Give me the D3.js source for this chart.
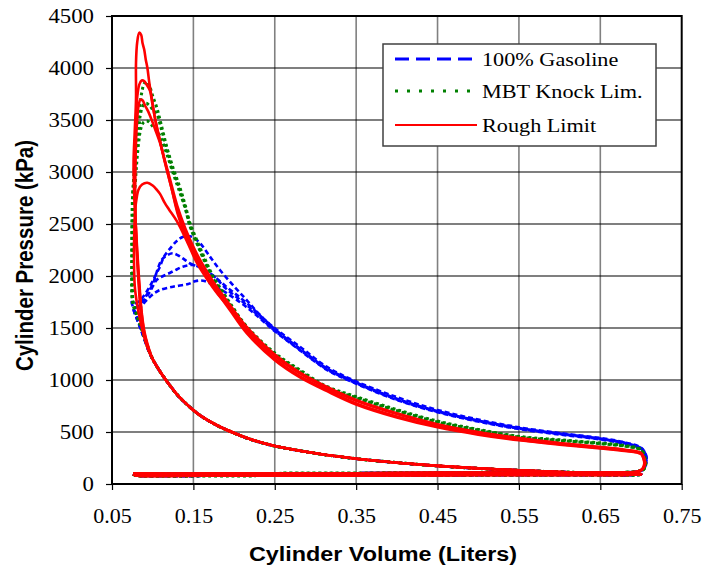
<!DOCTYPE html>
<html>
<head>
<meta charset="utf-8">
<script src="https://cdn.jsdelivr.net/npm/d3@7"></script>
<style>
  body { margin: 0; background: #fff; }
  svg { display: block; }
</style>
</head>
<body>
<div id="chart"></div>
<script>
// cylinder volume (liters) vs cylinder pressure (kPa)
var xTicks = [0.05, 0.15, 0.25, 0.35, 0.45, 0.55, 0.65, 0.75];
var yTicks = [0, 500, 1000, 1500, 2000, 2500, 3000, 3500, 4000, 4500];
var seriesNames = ["100% Gasoline", "MBT Knock Lim.", "Rough Limit"];

// gas exchange + compression, shared by every cycle
var intakeStroke = [[0.076,95],[0.08,82],[0.10,78],[0.20,80],[0.30,82],[0.40,84],[0.50,86],[0.60,88],[0.70,92]];
var compressionStroke = [[0.70,94],[0.65,104],[0.60,116],[0.55,131],[0.50,150],[0.45,174],[0.40,205],[0.35,243],[0.30,295],[0.25,365],[0.22,430],[0.20,490],[0.18,560],[0.16,650],[0.15,710],[0.14,780],[0.13,860],[0.12,960],[0.11,1070],[0.10,1200]];
var exhaustStroke = [[0.695,118],[0.68,112],[0.60,108],[0.50,108],[0.40,105],[0.30,103],[0.20,101],[0.12,99],[0.085,100],[0.076,100]];

// combustion + expansion, one list per cycle
var gasolineCycles = [
  [[0.095,1290],[0.09,1400],[0.085,1510],[0.08,1620],[0.076,1700],[0.074,1750],[0.076,1745],[0.08,1740],[0.085,1770],[0.09,1820],[0.095,1880],[0.10,1950],[0.105,2030],[0.109,2090],[0.1135,2180],[0.1233,2282],[0.13,2340],[0.1376,2378],[0.148,2378],[0.158,2317],[0.17,2190],[0.1826,2058],[0.20,1900],[0.2155,1769],[0.23,1640],[0.2477,1513],[0.281,1320],[0.3136,1128],[0.346,1000],[0.40,835],[0.45,712],[0.50,620],[0.55,545],[0.60,490],[0.65,442],[0.68,400],[0.70,350],[0.705,300],[0.707,250],[0.706,190],[0.703,140],[0.699,128]],
  [[0.095,1285],[0.09,1395],[0.085,1500],[0.08,1610],[0.076,1690],[0.078,1690],[0.083,1720],[0.09,1790],[0.10,1920],[0.105,2040],[0.111,2154],[0.118,2200],[0.125,2218],[0.135,2180],[0.146,2120],[0.158,2085],[0.17,2030],[0.19,1900],[0.2155,1740],[0.25,1490],[0.281,1300],[0.3136,1115],[0.346,990],[0.40,820],[0.45,700],[0.50,610],[0.55,538],[0.60,485],[0.65,436],[0.68,396],[0.70,345],[0.705,295],[0.7065,245],[0.7055,188],[0.7025,140],[0.699,127]],
  [[0.095,1280],[0.09,1390],[0.085,1500],[0.08,1600],[0.077,1680],[0.079,1680],[0.085,1720],[0.0967,1850],[0.105,1962],[0.113,2000],[0.121,2029],[0.13,2065],[0.137,2090],[0.149,2106],[0.16,2075],[0.175,2000],[0.19,1880],[0.2155,1720],[0.25,1475],[0.281,1290],[0.3136,1105],[0.346,982],[0.40,812],[0.45,694],[0.50,605],[0.55,532],[0.60,480],[0.65,432],[0.68,392],[0.70,342],[0.705,292],[0.7065,242],[0.7055,186],[0.7025,140],[0.699,127]],
  [[0.095,1280],[0.09,1385],[0.085,1495],[0.08,1600],[0.077,1670],[0.079,1670],[0.085,1700],[0.0905,1750],[0.0967,1801],[0.103,1840],[0.109,1865],[0.125,1897],[0.1437,1923],[0.152,1950],[0.162,1955],[0.175,1910],[0.19,1840],[0.2155,1700],[0.25,1470],[0.281,1285],[0.3136,1100],[0.346,978],[0.40,808],[0.45,690],[0.50,600],[0.55,528],[0.60,476],[0.65,428],[0.68,388],[0.70,340],[0.705,290],[0.7065,240],[0.7055,185],[0.7025,140],[0.699,127]]
];

var knockCycles = [
  [[0.095,1290],[0.09,1400],[0.085,1520],[0.08,1630],[0.076,1720],[0.0745,1800],[0.0745,2200],[0.075,2600],[0.0762,2890],[0.078,3100],[0.0805,3380],[0.0835,3600],[0.0865,3760],[0.0895,3850],[0.0926,3870],[0.096,3830],[0.10,3730],[0.105,3620],[0.11,3470],[0.117,3250],[0.125,3040],[0.1335,2850],[0.14,2680],[0.1458,2510],[0.155,2330],[0.165,2150],[0.174,2000],[0.185,1860],[0.195,1740],[0.2155,1515],[0.25,1260],[0.281,1096],[0.3136,940],[0.35,840],[0.40,715],[0.45,605],[0.50,525],[0.55,458],[0.60,425],[0.65,394],[0.68,370],[0.70,332],[0.7045,262],[0.706,192],[0.7035,142],[0.699,128]],
  [[0.095,1300],[0.09,1420],[0.085,1540],[0.08,1650],[0.0755,1760],[0.0745,2000],[0.0745,2450],[0.0755,2800],[0.078,2990],[0.0803,3243],[0.0834,3435],[0.0844,3532],[0.0885,3644],[0.092,3660],[0.096,3640],[0.10,3600],[0.105,3560],[0.11,3430],[0.117,3230],[0.125,3020],[0.1335,2830],[0.14,2660],[0.1458,2490],[0.155,2310],[0.165,2130],[0.174,1985],[0.185,1850],[0.195,1730],[0.2155,1505],[0.25,1250],[0.281,1088],[0.3136,932],[0.35,832],[0.40,708],[0.45,598],[0.50,520],[0.55,452],[0.60,420],[0.65,390],[0.68,366],[0.70,328],[0.704,258],[0.7055,188],[0.703,140],[0.699,127]],
  [[0.095,1290],[0.09,1410],[0.085,1530],[0.08,1640],[0.076,1750],[0.0755,2100],[0.0765,2500],[0.078,2800],[0.0805,3100],[0.083,3300],[0.0855,3420],[0.089,3480],[0.093,3490],[0.097,3470],[0.10,3440],[0.105,3400],[0.11,3330],[0.117,3180],[0.125,2990],[0.1335,2800],[0.14,2650],[0.1458,2480],[0.155,2300],[0.165,2120],[0.174,1975],[0.185,1842],[0.195,1722],[0.2155,1498],[0.25,1245],[0.281,1082],[0.3136,928],[0.35,828],[0.40,704],[0.45,595],[0.50,517],[0.55,450],[0.60,418],[0.65,388],[0.68,364],[0.70,326],[0.704,256],[0.7055,186],[0.703,140],[0.699,127]]
];

var roughCycles = [
  [[0.095,1310],[0.09,1460],[0.0865,1650],[0.083,2000],[0.0795,2450],[0.077,2850],[0.0765,3100],[0.078,3400],[0.0795,3700],[0.0795,4050],[0.081,4250],[0.0835,4340],[0.0858,4320],[0.0875,4240],[0.0895,4180],[0.0915,4080],[0.0935,4000],[0.096,3850],[0.0995,3680],[0.103,3510],[0.108,3330],[0.1126,3170],[0.117,3030],[0.123,2850],[0.131,2590],[0.14,2390],[0.15,2220],[0.16,2075],[0.174,1900],[0.195,1670],[0.2155,1450],[0.25,1190],[0.281,1025],[0.3136,895],[0.35,765],[0.40,640],[0.45,545],[0.50,475],[0.55,420],[0.60,378],[0.65,342],[0.68,318],[0.70,288],[0.703,245],[0.704,195],[0.702,150],[0.698,125]],
  [[0.095,1300],[0.09,1440],[0.0865,1630],[0.083,1950],[0.08,2350],[0.078,2750],[0.0785,3150],[0.0795,3500],[0.081,3720],[0.0835,3840],[0.0865,3880],[0.0895,3875],[0.0925,3840],[0.0967,3780],[0.0995,3660],[0.1035,3490],[0.109,3300],[0.115,3100],[0.122,2880],[0.131,2610],[0.14,2410],[0.15,2240],[0.16,2090],[0.174,1915],[0.195,1685],[0.2155,1465],[0.25,1205],[0.281,1035],[0.3136,905],[0.35,775],[0.40,650],[0.45,552],[0.50,482],[0.55,426],[0.60,383],[0.65,346],[0.68,322],[0.70,292],[0.703,248],[0.7045,198],[0.7025,152],[0.698,127]],
  [[0.095,1290],[0.09,1420],[0.086,1600],[0.0825,1950],[0.0795,2400],[0.0785,2800],[0.079,3150],[0.0805,3450],[0.0825,3630],[0.085,3695],[0.0875,3690],[0.0905,3640],[0.094,3590],[0.0988,3500],[0.104,3390],[0.109,3280],[0.115,3110],[0.121,2940],[0.13,2680],[0.14,2460],[0.15,2280],[0.16,2130],[0.174,1950],[0.195,1720],[0.2155,1510],[0.25,1245],[0.281,1070],[0.3136,935],[0.35,808],[0.40,680],[0.45,575],[0.50,500],[0.55,442],[0.60,395],[0.65,355],[0.68,330],[0.70,300],[0.7035,255],[0.705,205],[0.703,155],[0.699,128]],
  [[0.095,1280],[0.09,1400],[0.085,1560],[0.081,1720],[0.078,1900],[0.077,2200],[0.0775,2450],[0.0785,2640],[0.0805,2760],[0.0825,2830],[0.087,2880],[0.0934,2897],[0.10,2870],[0.105,2830],[0.109,2790],[0.115,2700],[0.12,2640],[0.1295,2530],[0.1417,2340],[0.154,2130],[0.165,1990],[0.18,1825],[0.195,1690],[0.2155,1490],[0.25,1230],[0.281,1060],[0.3136,925],[0.35,800],[0.40,672],[0.45,568],[0.50,495],[0.55,437],[0.60,390],[0.65,352],[0.68,326],[0.70,296],[0.7035,250],[0.705,200],[0.703,152],[0.699,126]]
];

var seriesColors = ["#0000ff", "#008000", "#ff0000"];

var width = 704, height = 567;
var plot = {left: 112, right: 681.7, top: 16, bottom: 484};
var stretch = 1.14;   // the picture's text is a bit wide

var svg = d3.select("#chart").append("svg")
    .attr("width", width)
    .attr("height", height);

var x = d3.scaleLinear()
    .domain([0.05, 0.75])
    .range([plot.left, plot.right]);

var y = d3.scaleLinear()
    .domain([0, 4500])
    .range([plot.bottom, plot.top]);

// grid lines
svg.append("g").selectAll("line")
    .data(xTicks.slice(1, -1))
    .enter().append("line")
      .attr("x1", function(d) { return x(d); })
      .attr("x2", function(d) { return x(d); })
      .attr("y1", plot.top)
      .attr("y2", plot.bottom)
      .style("stroke", "#808080")
      .style("stroke-width", 1.6);

svg.append("g").selectAll("line")
    .data(yTicks.slice(1, -1))
    .enter().append("line")
      .attr("x1", plot.left)
      .attr("x2", plot.right)
      .attr("y1", function(d) { return y(d); })
      .attr("y2", function(d) { return y(d); })
      .style("stroke", "#000")
      .style("stroke-width", 1.2);

// y axis
var yAxis = svg.append("g")
    .attr("transform", "translate(" + plot.left + ",0)")
    .call(d3.axisLeft(y).tickValues(yTicks).tickSize(6).tickFormat(d3.format("d")));
yAxis.select(".domain").remove();
yAxis.selectAll(".tick line").style("stroke", "#000").style("stroke-width", 1.2);
yAxis.selectAll(".tick text")
    .attr("x", 0).attr("dy", null)
    .attr("y", 0)
    .attr("transform", "translate(-18,6.8) scale(" + stretch + ",1)")
    .style("font-family", "'Liberation Serif', 'Times New Roman', serif")
    .style("font-size", "20px")
    .style("fill", "#000")
    .style("text-anchor", "end");

// x axis
var xAxis = svg.append("g")
    .attr("transform", "translate(0," + plot.bottom + ")")
    .call(d3.axisBottom(x).tickValues(xTicks).tickSize(6).tickFormat(d3.format(".2f")));
xAxis.select(".domain").remove();
xAxis.selectAll(".tick line").style("stroke", "#000").style("stroke-width", 1.2);
xAxis.selectAll(".tick text")
    .attr("y", 38.5).attr("dy", null)
    .style("font-family", "'Liberation Serif', 'Times New Roman', serif")
    .style("font-size", "22px")
    .style("fill", "#000");

// data
var line = d3.line()
    .x(function(d) { return x(d[0]); })
    .y(function(d) { return y(d[1]); })
    .curve(d3.curveCatmullRom.alpha(0.5));

function buildCycle(cycle) {
  return [].concat(intakeStroke, compressionStroke, cycle, exhaustStroke);
}

var allSeries = [gasolineCycles, knockCycles, roughCycles];
var dashes = ["5,3", "2.8,3", null];
var widths = [2.6, 3, 2.6];

allSeries.forEach(function(cycles, i) {
  svg.append("g").selectAll("path")
      .data(cycles)
      .enter().append("path")
        .attr("d", function(d) { return line(buildCycle(d)); })
        .style("fill", "none")
        .style("stroke", seriesColors[i])
        .style("stroke-width", widths[i])
        .style("stroke-dasharray", dashes[i]);
});

// plot border
svg.append("rect")
    .attr("x", plot.left)
    .attr("y", plot.top)
    .attr("width", plot.right - plot.left)
    .attr("height", plot.bottom - plot.top)
    .style("fill", "none")
    .style("stroke", "#000")
    .style("stroke-width", 2);

// legend
var legend = svg.append("g");
legend.append("rect")
    .attr("x", 383).attr("y", 44)
    .attr("width", 273).attr("height", 102)
    .style("fill", "#fff")
    .style("stroke", "#404040")
    .style("stroke-width", 1.5);

var legendRows = [59, 91, 125];
var legendDash = ["14,7", "3,9", null];
var legendWidth = [3.2, 3.2, 2];

seriesNames.forEach(function(name, i) {
  legend.append("line")
      .attr("x1", 395).attr("x2", 477)
      .attr("y1", legendRows[i]).attr("y2", legendRows[i])
      .style("stroke", seriesColors[i])
      .style("stroke-width", legendWidth[i])
      .style("stroke-dasharray", legendDash[i]);
  legend.append("text")
      .attr("transform", "translate(482," + (legendRows[i] + 7) + ") scale(" + stretch + ",1)")
      .style("font-family", "'Liberation Serif', 'Times New Roman', serif")
      .style("font-size", "19.5px")
      .text(name);
});

// axis titles
svg.append("text")
    .attr("transform", "translate(383,560.5) scale(" + stretch + ",1)")
    .style("font-family", "'Liberation Sans', Arial, sans-serif")
    .style("font-weight", "bold")
    .style("font-size", "20.5px")
    .style("text-anchor", "middle")
    .text("Cylinder Volume (Liters)");

svg.append("text")
    .attr("transform", "translate(33,255.5) scale(" + stretch + ",1) rotate(-90)")
    .style("font-family", "'Liberation Sans', Arial, sans-serif")
    .style("font-weight", "bold")
    .style("font-size", "20.5px")
    .style("text-anchor", "middle")
    .text("Cylinder Pressure (kPa)");
</script>
</body>
</html>
